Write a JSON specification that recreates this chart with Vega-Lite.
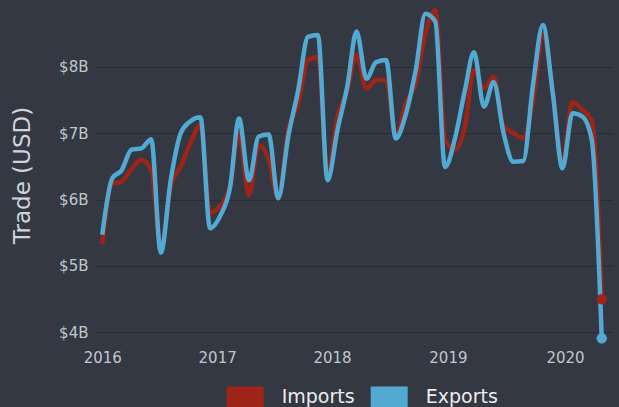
{
  "$schema": "https://vega.github.io/schema/vega-lite/v6.json",
  "width": 518,
  "height": 338,
  "autosize": {"type": "none"},
  "padding": {"left": 95, "top": 7, "right": 6, "bottom": 62},
  "background": "#333843",
  "config": {"view": {"stroke": null}, "font": "DejaVu Sans"},
  "data": {"values": [
    {"date":"2016-01-01","series":"Imports","value":5.34},{"date":"2016-02-01","series":"Imports","value":6.24},{"date":"2016-03-01","series":"Imports","value":6.27},{"date":"2016-04-01","series":"Imports","value":6.46},{"date":"2016-05-01","series":"Imports","value":6.60},{"date":"2016-06-01","series":"Imports","value":6.45},{"date":"2016-07-01","series":"Imports","value":5.25},{"date":"2016-08-01","series":"Imports","value":6.20},{"date":"2016-09-01","series":"Imports","value":6.50},{"date":"2016-10-01","series":"Imports","value":6.85},{"date":"2016-11-01","series":"Imports","value":7.12},{"date":"2016-12-01","series":"Imports","value":5.80},
    {"date":"2017-01-01","series":"Imports","value":5.90},{"date":"2017-02-01","series":"Imports","value":6.20},{"date":"2017-03-01","series":"Imports","value":7.00},{"date":"2017-04-01","series":"Imports","value":6.07},{"date":"2017-05-01","series":"Imports","value":6.82},{"date":"2017-06-01","series":"Imports","value":6.60},{"date":"2017-07-01","series":"Imports","value":6.02},{"date":"2017-08-01","series":"Imports","value":7.05},{"date":"2017-09-01","series":"Imports","value":7.45},{"date":"2017-10-01","series":"Imports","value":8.10},{"date":"2017-11-01","series":"Imports","value":8.15},{"date":"2017-12-01","series":"Imports","value":6.35},
    {"date":"2018-01-01","series":"Imports","value":7.25},{"date":"2018-02-01","series":"Imports","value":7.65},{"date":"2018-03-01","series":"Imports","value":8.18},{"date":"2018-04-01","series":"Imports","value":7.67},{"date":"2018-05-01","series":"Imports","value":7.80},{"date":"2018-06-01","series":"Imports","value":7.80},{"date":"2018-07-01","series":"Imports","value":6.95},{"date":"2018-08-01","series":"Imports","value":7.45},{"date":"2018-09-01","series":"Imports","value":7.75},{"date":"2018-10-01","series":"Imports","value":8.50},{"date":"2018-11-01","series":"Imports","value":8.85},{"date":"2018-12-01","series":"Imports","value":6.90},
    {"date":"2019-01-01","series":"Imports","value":6.75},{"date":"2019-02-01","series":"Imports","value":7.10},{"date":"2019-03-01","series":"Imports","value":7.95},{"date":"2019-04-01","series":"Imports","value":7.68},{"date":"2019-05-01","series":"Imports","value":7.85},{"date":"2019-06-01","series":"Imports","value":7.10},{"date":"2019-07-01","series":"Imports","value":7.00},{"date":"2019-08-01","series":"Imports","value":6.93},{"date":"2019-09-01","series":"Imports","value":7.50},{"date":"2019-10-01","series":"Imports","value":8.50},{"date":"2019-11-01","series":"Imports","value":7.60},{"date":"2019-12-01","series":"Imports","value":6.55},
    {"date":"2020-01-01","series":"Imports","value":7.47},{"date":"2020-02-01","series":"Imports","value":7.35},{"date":"2020-03-01","series":"Imports","value":7.20},{"date":"2020-04-01","series":"Imports","value":4.50},
    {"date":"2016-01-01","series":"Exports","value":5.47},{"date":"2016-02-01","series":"Exports","value":6.32},{"date":"2016-03-01","series":"Exports","value":6.44},{"date":"2016-04-01","series":"Exports","value":6.75},{"date":"2016-05-01","series":"Exports","value":6.77},{"date":"2016-06-01","series":"Exports","value":6.91},{"date":"2016-07-01","series":"Exports","value":5.20},{"date":"2016-08-01","series":"Exports","value":6.30},{"date":"2016-09-01","series":"Exports","value":7.00},{"date":"2016-10-01","series":"Exports","value":7.18},{"date":"2016-11-01","series":"Exports","value":7.24},{"date":"2016-12-01","series":"Exports","value":5.57},
    {"date":"2017-01-01","series":"Exports","value":5.75},{"date":"2017-02-01","series":"Exports","value":6.18},{"date":"2017-03-01","series":"Exports","value":7.22},{"date":"2017-04-01","series":"Exports","value":6.29},{"date":"2017-05-01","series":"Exports","value":6.95},{"date":"2017-06-01","series":"Exports","value":6.98},{"date":"2017-07-01","series":"Exports","value":6.02},{"date":"2017-08-01","series":"Exports","value":6.95},{"date":"2017-09-01","series":"Exports","value":7.65},{"date":"2017-10-01","series":"Exports","value":8.45},{"date":"2017-11-01","series":"Exports","value":8.48},{"date":"2017-12-01","series":"Exports","value":6.29},
    {"date":"2018-01-01","series":"Exports","value":7.05},{"date":"2018-02-01","series":"Exports","value":7.72},{"date":"2018-03-01","series":"Exports","value":8.53},{"date":"2018-04-01","series":"Exports","value":7.82},{"date":"2018-05-01","series":"Exports","value":8.07},{"date":"2018-06-01","series":"Exports","value":8.10},{"date":"2018-07-01","series":"Exports","value":6.92},{"date":"2018-08-01","series":"Exports","value":7.28},{"date":"2018-09-01","series":"Exports","value":7.95},{"date":"2018-10-01","series":"Exports","value":8.80},{"date":"2018-11-01","series":"Exports","value":8.68},{"date":"2018-12-01","series":"Exports","value":6.49},
    {"date":"2019-01-01","series":"Exports","value":6.92},{"date":"2019-02-01","series":"Exports","value":7.65},{"date":"2019-03-01","series":"Exports","value":8.22},{"date":"2019-04-01","series":"Exports","value":7.40},{"date":"2019-05-01","series":"Exports","value":7.77},{"date":"2019-06-01","series":"Exports","value":7.00},{"date":"2019-07-01","series":"Exports","value":6.57},{"date":"2019-08-01","series":"Exports","value":6.58},{"date":"2019-09-01","series":"Exports","value":7.75},{"date":"2019-10-01","series":"Exports","value":8.63},{"date":"2019-11-01","series":"Exports","value":7.60},{"date":"2019-12-01","series":"Exports","value":6.47},
    {"date":"2020-01-01","series":"Exports","value":7.30},{"date":"2020-02-01","series":"Exports","value":7.25},{"date":"2020-03-01","series":"Exports","value":6.90},{"date":"2020-04-01","series":"Exports","value":3.91}
  ]},
  "encoding": {
    "x": {
      "field": "date", "type": "temporal",
      "scale": {"type": "utc", "domain": [{"year": 2015, "month": 12, "date": 9, "hours": 12, "utc": true}, {"year": 2020, "month": 5, "date": 6, "utc": true}]},
      "axis": {
        "title": null, "formatType": "utc",
        "values": [{"year": 2016, "month": 1, "date": 1, "utc": true}, {"year": 2016, "month": 12, "date": 23, "utc": true}, {"year": 2017, "month": 12, "date": 15, "utc": true}, {"year": 2018, "month": 12, "date": 10, "utc": true}, {"year": 2019, "month": 12, "date": 9, "utc": true}],
        "labelExpr": "utcFormat(datum.value + 40 * 86400000, '%Y')",
        "domain": false, "ticks": false, "grid": false,
        "labelColor": "#c2c6cc", "labelFontSize": 15, "labelPadding": 5, "labelFont": "DejaVu Sans"
      }
    },
    "y": {
      "field": "value", "type": "quantitative",
      "scale": {"domain": [3.81, 8.9], "nice": false, "zero": false},
      "axis": {
        "values": [4, 5, 6, 7, 8],
        "labelExpr": "'$' + datum.value + 'B'",
        "title": "Trade (USD)",
        "domain": false, "ticks": false, "grid": true,
        "gridColor": "#272b33", "gridWidth": 1,
        "labelColor": "#c2c6cc", "labelFontSize": 15, "labelPadding": 7, "labelFont": "DejaVu Sans",
        "titleColor": "#d0d3d7", "titleFontSize": 23, "titleFontWeight": "normal", "titleFont": "DejaVu Sans",
        "titleX": -73, "titleY": 168, "titleBaseline": "middle", "titleAngle": -90, "titleAlign": "center"
      }
    },
    "color": {
      "field": "series", "type": "nominal",
      "scale": {"domain": ["Imports", "Exports"], "range": ["#9e2418", "#52a9d2"]},
      "legend": {
        "title": null, "orient": "none", "legendX": 131.7, "legendY": 371,
        "direction": "horizontal", "padding": 0,
        "symbolType": "M-1,-0.5676H1V0.5676H-1Z", "symbolSize": 1369, "symbolStrokeWidth": 0, "symbolOpacity": 1,
        "labelColor": "#ececec", "labelFontSize": 19, "labelOffset": 18, "columnPadding": 16, "labelFont": "DejaVu Sans",
        "encode": {"symbols": {"update": {"fill": {"scale": "color", "field": "value"}, "fillOpacity": {"value": 1}}}}
      }
    }
  },
  "layer": [
    {"transform": [{"filter": "datum.series === 'Imports'"}], "mark": {"type": "line", "interpolate": "monotone", "strokeWidth": 4.5, "strokeJoin": "round"}},
    {"transform": [{"filter": "datum.series === 'Exports'"}], "mark": {"type": "line", "interpolate": "monotone", "strokeWidth": 4.5, "strokeJoin": "round"}},
    {"transform": [{"filter": "utcyear(datum.date) === 2020 && utcmonth(datum.date) === 3"}], "mark": {"type": "point", "filled": true, "size": 110, "opacity": 1}}
  ]
}
